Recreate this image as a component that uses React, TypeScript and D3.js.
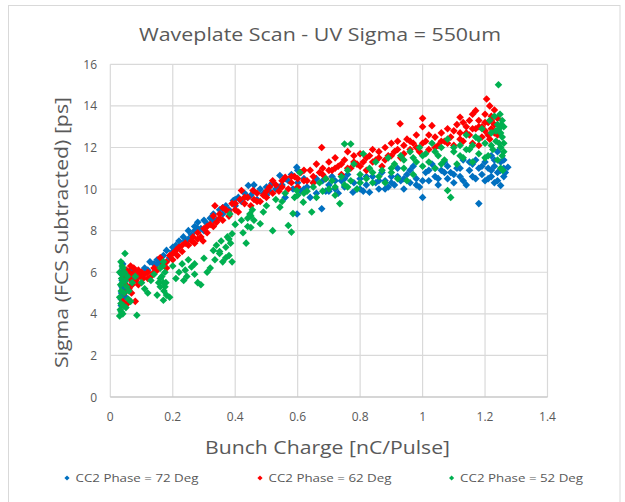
import React from "react";
import * as d3 from "d3";

const title = "Waveplate Scan - UV Sigma = 550um";
const xTitle = "Bunch Charge [nC/Pulse]";
const yTitle = "Sigma (FCS Subtracted) [ps]";
const xTicks = [0, 0.2, 0.4, 0.6, 0.8, 1, 1.2, 1.4];
const yTicks = [0, 2, 4, 6, 8, 10, 12, 14, 16];
const seriesNames = ["CC2 Phase = 72 Deg", "CC2 Phase = 62 Deg", "CC2 Phase = 52 Deg"];
const seriesColors = ["#0070C0", "#FF0000", "#00B050"];

const phase72: [number, number][] = [
  [0.035,4.4],[0.035,4.7],[0.036,5.0],[0.037,5.3],[0.038,5.6],[0.036,5.9],[0.04,6.2],[0.042,4.9],[0.044,5.4],[0.046,5.8],[0.04,6.4],[0.048,5.1],[0.05,5.6],[0.052,6.0],[0.055,5.3],[0.06,5.8],[0.065,6.1],[0.07,5.7],
  [0.08,6.0],[0.09,5.8],[0.1,6.0],[0.11,6.2],[0.12,6.1],[0.127,6.5],[0.14,6.4],[0.15,6.6],[0.16,6.5],[0.17,6.8],[0.18,7.05],[0.19,6.7],[0.2,7.0],[0.21,7.3],[0.22,7.2],[0.234,7.7],[0.24,7.5],[0.25,8.0],[0.26,7.8],[0.27,8.2],[0.28,8.4],[0.29,8.1],[0.3,8.0],[0.31,8.33],[0.32,8.6],[0.33,8.8],[0.34,8.5],[0.35,9.0],[0.36,8.8],[0.37,9.2],[0.38,9.0],[0.394,9.45],[0.4,9.2],[0.41,9.6],[0.42,9.4],[0.43,9.8],[0.442,10.17],[0.45,9.7],[0.46,9.9],[0.47,9.5],[0.48,10.0],[0.49,9.8],[0.5,10.1],[0.51,9.9],[0.517,10.25],[0.53,10.0],[0.543,10.65],[0.55,10.2],[0.56,9.6],[0.57,10.4],[0.598,8.8],[0.585,10.0],[0.597,11.05],[0.6,10.3],[0.61,9.9],[0.62,10.5],[0.63,10.1],[0.64,9.6],[0.65,10.3],[0.66,9.8],[0.677,9.05],[0.68,10.4],[0.69,9.9],[0.7,10.2],[0.71,10.6],[0.72,10.0],[0.73,9.8],[0.74,10.4],[0.75,10.1],[0.76,10.7],[0.777,9.85],[0.78,10.3],[0.79,10.0],[0.8,10.5],[0.81,9.9],[0.82,10.2],[0.83,9.85],[0.84,10.6],[0.85,10.3],[0.86,10.0],[0.87,10.8],[0.88,10.4],[0.89,10.1],[0.9,10.6],[0.91,10.2],[0.92,11.0],[0.93,10.4],[0.94,10.0],[0.95,10.7],[0.96,10.3],[0.97,11.1],[0.98,10.5],[0.99,10.1],[1.0,9.6],[1.01,10.8],[1.02,10.4],[1.03,11.2],[1.04,10.6],[1.05,10.2],[1.06,10.9],[1.07,11.3],[1.08,10.5],[1.09,10.8],[1.1,10.3],[1.11,11.0],[1.12,10.6],[1.13,11.4],[1.14,10.2],[1.15,10.9],[1.16,11.2],[1.17,10.5],[1.18,9.3],[1.18,11.0],[1.19,10.7],[1.2,10.4],[1.2,11.3],[1.21,11.0],[1.22,10.6],[1.22,11.6],[1.23,11.1],[1.23,10.3],[1.24,10.8],[1.24,11.8],[1.25,10.17],[1.25,11.3],[1.26,10.6],[1.26,11.0],[1.273,11.05],[1.265,10.8],
  [0.038,4.5],[0.04,5.2],[0.042,5.7],[0.045,6.1],[0.05,4.8],[0.15,6.4],[0.2,7.2],[0.22,7.5],[0.25,7.6],[0.27,8.0],[0.28,8.1],[0.3,8.5],[0.33,8.5],[0.36,9.1],[0.4,9.5],[0.44,9.6],[0.46,10.2],[0.5,9.7],[0.52,10.3],[0.54,10.1],[0.56,10.5],[0.58,10.7],[0.6,10.9],[0.62,10.0],[0.66,10.5],[0.7,9.9],[0.72,10.4],[0.75,10.5],[0.8,10.0],[0.82,10.6],[0.86,10.4],[0.88,10.0],[0.9,10.3],[0.92,10.6],[0.94,10.5],[0.96,10.9],[0.98,10.2],[1.0,10.4],[1.02,10.9],[1.04,11.0],[1.05,10.5],[1.07,10.8],[1.08,11.1],[1.1,10.7],[1.12,11.0],[1.13,10.4],[1.15,11.3],[1.16,10.6],[1.17,11.4],[1.19,11.1],[1.21,10.5],[1.22,10.9],[1.23,11.4],[1.24,10.4],[1.25,10.9],[1.26,11.4]
];

const phase62: [number, number][] = [
  [0.04,4.6],[0.045,5.0],[0.05,5.4],[0.048,5.8],[0.052,6.1],[0.055,4.5],[0.06,5.2],[0.062,5.7],[0.065,6.3],[0.068,5.0],[0.07,5.9],[0.075,6.2],[0.08,4.6],[0.082,5.6],[0.085,6.0],[0.09,5.4],[0.095,5.8],[0.1,6.0],[0.105,5.7],[0.11,5.9],[0.12,6.0],[0.13,5.8],[0.14,6.2],[0.15,6.1],[0.16,6.7],[0.17,6.4],[0.18,6.5],[0.19,6.8],[0.2,6.6],[0.21,7.05],[0.215,6.8],[0.22,7.2],[0.23,7.0],[0.24,7.4],[0.25,7.3],[0.265,7.7],[0.27,7.4],[0.28,7.9],[0.29,7.7],[0.297,7.5],[0.3,8.1],[0.31,7.9],[0.32,8.3],[0.33,8.7],[0.335,9.2],[0.34,8.4],[0.35,8.8],[0.36,8.5],[0.37,9.0],[0.38,8.7],[0.39,9.3],[0.4,9.0],[0.41,8.9],[0.415,9.5],[0.42,9.93],[0.43,9.3],[0.44,9.6],[0.45,9.2],[0.457,9.93],[0.46,9.5],[0.47,9.8],[0.48,9.4],[0.49,9.7],[0.5,9.6],[0.51,10.1],[0.52,9.8],[0.53,10.2],[0.54,9.9],[0.55,10.4],[0.56,10.57],[0.57,10.0],[0.58,10.3],[0.59,10.6],[0.6,10.1],[0.61,10.8],[0.62,10.4],[0.63,10.4],[0.64,10.9],[0.65,10.6],[0.66,11.2],[0.67,10.8],[0.677,12.0],[0.68,11.0],[0.69,10.5],[0.7,11.3],[0.71,10.9],[0.72,11.5],[0.73,11.1],[0.74,10.7],[0.75,11.4],[0.76,11.8],[0.77,11.0],[0.78,11.6],[0.79,11.2],[0.8,11.7],[0.81,11.3],[0.82,10.9],[0.83,11.6],[0.84,11.9],[0.85,11.4],[0.86,11.8],[0.87,11.1],[0.88,12.0],[0.89,11.6],[0.9,12.2],[0.91,11.8],[0.92,12.3],[0.928,13.14],[0.93,11.5],[0.94,12.1],[0.95,12.4],[0.96,11.9],[0.97,12.2],[0.98,12.6],[0.99,11.8],[1.0,13.4],[1.0,13.0],[1.01,12.3],[1.02,11.9],[1.03,13.05],[1.04,12.5],[1.05,12.1],[1.06,12.7],[1.07,12.3],[1.08,12.9],[1.09,12.5],[1.1,12.1],[1.11,13.1],[1.12,13.45],[1.12,12.7],[1.13,12.3],[1.14,13.0],[1.15,13.3],[1.15,12.6],[1.16,13.6],[1.17,13.77],[1.17,12.9],[1.18,12.1],[1.18,13.3],[1.19,13.0],[1.19,12.5],[1.2,13.6],[1.2,12.8],[1.205,14.33],[1.21,13.2],[1.215,14.0],[1.215,12.4],[1.22,13.5],[1.22,12.9],[1.23,13.8],[1.23,13.1],[1.24,12.6],[1.24,13.4],
  [0.045,5.6],[0.055,5.9],[0.06,6.0],[0.07,5.4],[0.09,6.1],[0.12,5.7],[0.14,6.0],[0.18,6.2],[0.2,6.9],[0.23,7.3],[0.26,7.5],[0.28,7.6],[0.31,8.2],[0.33,8.2],[0.35,8.6],[0.36,9.1],[0.38,8.9],[0.4,9.3],[0.43,9.6],[0.47,9.4],[0.5,9.9],[0.52,10.4],[0.55,10.1],[0.58,10.6],[0.6,10.5],[0.62,10.9],[0.65,10.3],[0.68,10.7],[0.7,10.9],[0.72,11.0],[0.74,11.2],[0.76,11.0],[0.78,11.3],[0.8,11.1],[0.82,11.5],[0.84,11.3],[0.86,11.5],[0.88,11.4],[0.9,11.6],[0.92,11.9],[0.94,11.7],[0.96,12.3],[0.98,12.0],[1.0,12.2],[1.02,12.6],[1.04,12.0],[1.06,12.3],[1.08,12.2],[1.1,12.8],[1.12,12.4],[1.14,12.7],[1.16,12.9],[1.18,13.0],[1.2,13.2],[1.21,12.6],[1.22,13.3],[1.23,12.7],[1.16,12.2],[1.13,13.2]
];

const phase52: [number, number][] = [
  [0.03,3.9],[0.032,4.2],[0.034,4.5],[0.03,4.8],[0.035,5.1],[0.033,5.4],[0.036,5.7],[0.03,6.0],[0.038,6.3],[0.034,6.5],[0.04,4.0],[0.042,4.4],[0.044,5.0],[0.04,5.5],[0.045,6.0],[0.047,6.9],[0.05,4.3],[0.052,5.3],[0.055,5.8],[0.058,4.7],[0.06,5.1],[0.065,4.6],[0.085,3.93],[0.07,5.5],[0.08,5.8],
  [0.1,5.5],[0.11,5.2],[0.12,5.0],[0.13,5.6],[0.14,5.9],[0.15,4.9],[0.155,5.5],[0.16,6.2],[0.16,5.3],[0.165,5.8],[0.17,4.65],[0.17,6.5],[0.172,5.1],[0.175,6.0],[0.178,5.5],[0.18,4.9],[0.19,4.8],[0.2,6.3],[0.21,5.7],[0.22,6.0],[0.23,6.4],[0.235,5.6],[0.245,5.8],[0.25,6.6],[0.26,6.25],[0.27,5.9],[0.28,5.5],[0.29,5.4],[0.3,6.67],[0.31,6.0],[0.32,6.2],[0.33,7.05],[0.335,6.6],[0.34,7.3],[0.35,6.9],[0.355,7.5],[0.36,6.5],[0.37,7.2],[0.375,7.7],[0.38,6.8],[0.385,7.4],[0.39,6.5],[0.39,7.85],[0.383,8.8],[0.4,8.3],[0.42,8.5],[0.425,7.9],[0.435,7.4],[0.44,8.6],[0.447,8.8],[0.45,8.15],[0.455,9.0],[0.46,8.5],[0.48,8.33],[0.49,8.9],[0.5,9.2],[0.52,8.0],[0.53,9.5],[0.543,9.13],[0.55,9.4],[0.56,9.8],[0.57,8.25],[0.58,7.93],[0.585,8.82],[0.59,9.6],[0.597,9.93],[0.607,10.8],[0.618,9.37],[0.63,9.9],[0.645,8.9],[0.65,10.1],[0.66,9.6],[0.67,10.3],[0.68,9.9],[0.69,10.5],[0.7,10.0],[0.71,10.4],[0.72,9.7],[0.735,9.3],[0.74,10.6],[0.75,12.17],[0.75,10.2],[0.76,10.9],[0.77,12.17],[0.77,10.4],[0.78,11.2],[0.79,10.0],[0.8,10.7],[0.81,11.7],[0.82,10.5],[0.83,11.0],[0.84,10.3],[0.85,11.3],[0.86,10.6],[0.87,10.9],[0.88,10.3],[0.89,11.5],[0.9,10.8],[0.91,11.2],[0.92,10.5],[0.93,11.6],[0.94,11.0],[0.95,10.4],[0.96,11.8],[0.97,10.7],[0.98,11.3],[0.99,12.0],[1.0,11.1],[1.01,11.7],[1.02,11.3],[1.03,12.2],[1.04,11.0],[1.05,11.6],[1.06,12.0],[1.07,11.4],[1.08,9.93],[1.09,9.6],[1.08,12.4],[1.1,11.8],[1.11,11.2],[1.12,12.1],[1.13,11.5],[1.14,12.6],[1.15,11.9],[1.16,11.3],[1.17,12.5],[1.18,11.7],[1.19,12.9],[1.2,12.2],[1.21,11.6],[1.215,13.3],[1.22,12.7],[1.225,11.9],[1.23,13.5],[1.235,12.3],[1.24,11.4],[1.243,15.02],[1.245,12.9],[1.248,13.6],[1.25,12.0],[1.25,11.0],[1.252,13.1],[1.255,12.5],[1.255,11.6],[1.257,10.9],[1.26,12.2],[1.26,13.0],
  [0.035,4.1],[0.038,5.9],[0.041,6.2],[0.048,5.6],[0.16,5.7],[0.17,5.5],[0.175,5.3],[0.168,6.3],[0.24,6.1],[0.27,6.4],[0.35,7.0],[0.37,6.7],[0.38,7.6],[0.44,8.2],[0.45,8.7],[0.6,9.7],[0.62,9.8],[0.72,10.1],[0.76,10.1],[0.8,10.3],[0.84,10.8],[0.9,11.0],[0.94,11.4],[0.97,11.5],[1.0,11.6],[1.04,11.8],[1.06,11.2],[1.1,12.0],[1.12,11.6],[1.14,11.9],[1.16,12.1],[1.18,12.4],[1.2,11.5],[1.22,12.1],[1.235,12.8],[1.245,12.2],[1.25,12.7],[1.255,13.3],[1.26,11.8],[1.24,13.1]
];

const allSeries = [phase72, phase62, phase52];

const W = 625, H = 502;
const left = 110.3, right = 547.5, top = 64.3, bottom = 397;
const textColor = "#595959";
const font = "'Open Sans', 'Noto Sans', sans-serif";

function diamond(cx: number, cy: number, r: number) {
  const p = d3.path();
  p.moveTo(cx, cy - r);
  p.lineTo(cx + r, cy);
  p.lineTo(cx, cy + r);
  p.lineTo(cx - r, cy);
  p.closePath();
  return p.toString();
}

export default function App() {
  const x = d3.scaleLinear().domain([0, 1.4]).range([left, right]);
  const y = d3.scaleLinear().domain([0, 16]).range([bottom, top]);
  const legendX = [67, 260, 451.6];

  return (
    <svg width={W} height={H} style={{ position: "absolute", left: 0, top: 0, background: "#fff" }}>
      <rect x={0} y={0} width={W} height={H} fill="#fff" />
      <rect x={8.5} y={5.5} width={611.5} height={510} fill="#fff" stroke="#d9d9d9" strokeWidth={1} />
      <text x={320} y={41} textAnchor="middle" fontFamily={font} fontSize={17.5} fill={textColor} textLength={362} lengthAdjust="spacingAndGlyphs">{title}</text>
      {yTicks.map((t) => (
        <line key={"gy" + t} x1={left} x2={right} y1={y(t)} y2={y(t)} stroke="#d9d9d9" strokeWidth={1.2} />
      ))}
      {xTicks.map((t) => (
        <line key={"gx" + t} x1={x(t)} x2={x(t)} y1={top} y2={bottom} stroke="#d9d9d9" strokeWidth={1.2} />
      ))}
      <line x1={left} x2={right} y1={bottom} y2={bottom} stroke="#bfbfbf" strokeWidth={1.2} />
      {yTicks.map((t) => (
        <text key={"ty" + t} x={97} y={y(t) + 4.5} textAnchor="end" fontFamily={font} fontSize={12} fill={textColor}>{t}</text>
      ))}
      {xTicks.map((t) => (
        <text key={"tx" + t} x={x(t)} y={421} textAnchor="middle" fontFamily={font} fontSize={12} fill={textColor}>{t}</text>
      ))}
      <text x={327.5} y={454} textAnchor="middle" fontFamily={font} fontSize={18.5} fill={textColor} textLength={245} lengthAdjust="spacingAndGlyphs">{xTitle}</text>
      <text transform={`translate(68,232.5) rotate(-90)`} textAnchor="middle" fontFamily={font} fontSize={18.5} fill={textColor} textLength={271} lengthAdjust="spacingAndGlyphs">{yTitle}</text>
      {allSeries.map((s, i) => (
        <g key={"s" + i} fill={seriesColors[i]}>
          {s.map((d, j) => (
            <path key={j} d={diamond(x(d[0]), y(d[1]), 3.8)} />
          ))}
        </g>
      ))}
      {seriesNames.map((n, i) => (
        <g key={"l" + i}>
          <path d={diamond(legendX[i], 478, 2.6)} fill={seriesColors[i]} />
          <text x={legendX[i] + 8.5} y={482} fontFamily={font} fontSize={11} fill={textColor} textLength={123} lengthAdjust="spacingAndGlyphs">{n}</text>
        </g>
      ))}
    </svg>
  );
}
